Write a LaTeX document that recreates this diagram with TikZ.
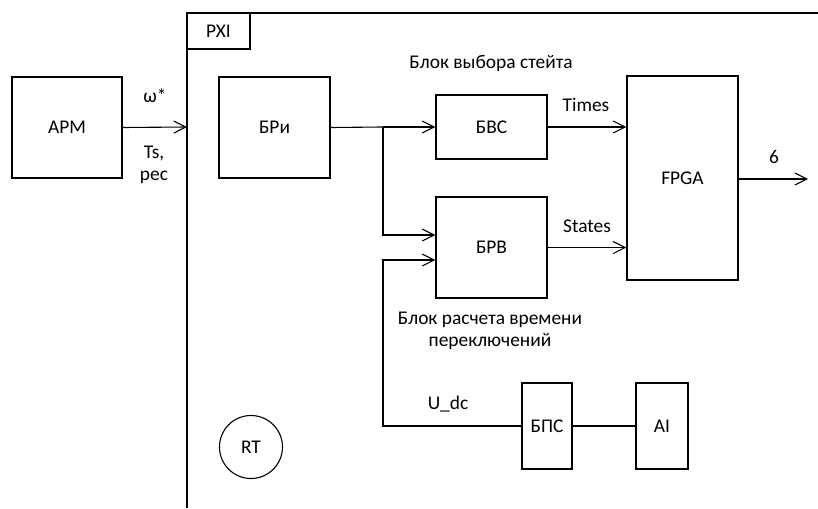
\documentclass[tikz,border=0pt]{standalone}
\usepackage{fontspec}
\setmainfont{Carlito}
\usetikzlibrary{arrows.meta,calc}
\begin{document}
\begin{tikzpicture}[x=1pt,y=-1pt,
  every node/.style={font=\fontsize{19.4}{22}\selectfont, inner sep=0pt},
  arr/.style={-{Straight Barb[length=12pt,width=12pt,line width=1.1pt]}},
  ln/.style={line width=1.1pt},
  lbl/.style={align=center}]
\useasboundingbox (0,0) rectangle (818,508);
\fill[white] (0,0) rectangle (818,508);
% PXI frame
\draw[ln] (818,13) -- (187,13) -- (187,508);
\node[draw, line width=1.1pt, minimum width=63pt, minimum height=36pt] (pxi) at (218.5,31) {PXI};
% blocks
\node[draw, line width=1.1pt, minimum width=110pt, minimum height=101pt] (apm) at (67,127.5) {АРМ};
\node[draw, line width=1.1pt, minimum width=111pt, minimum height=101pt] (bri) at (274.5,127.5) {БРи};
\node[draw, line width=1.1pt, minimum width=111pt, minimum height=64pt] (bvs) at (491.5,127) {БВС};
\node[draw, line width=1.1pt, minimum width=111pt, minimum height=101pt] (brv) at (491.5,247.5) {БРВ};
\node[draw, line width=1.1pt, minimum width=111pt, minimum height=204pt] (fpga) at (682.5,178) {FPGA};
\node[draw, line width=1.1pt, minimum width=50pt, minimum height=86pt] (bps) at (547,426) {БПС};
\node[draw, line width=1.1pt, minimum width=52pt, minimum height=86pt] (ai) at (662,426) {AI};
\node[draw, line width=1.1pt, circle, minimum size=63pt] (rt) at (251,447) {RT};
% coordinates
\coordinate (pxiin) at (187,127);
\coordinate (br) at (383,127);
\coordinate (br2) at (383,235);
\coordinate (in2) at (383,260);
\coordinate (out) at (808,179);
% connectors
\draw[ln,arr] (apm.east) -- (pxiin);
\draw[ln] (bri.east) -- (br);
\draw[ln,arr] (br) -- (bvs.west);
\draw[ln,arr] (br) -- (br2) -- (brv.west |- br2);
\draw[ln,arr] (bps.west) -- (bps.west -| in2) -- (in2) -- (brv.west |- in2);
\draw[ln,arr] (bvs.east) -- (fpga.west |- bvs.east);
\draw[ln,arr] (brv.east) -- (fpga.west |- brv.east);
\draw[ln,arr] (fpga.east |- out) -- (out);
\draw[ln] (bps.east) -- (ai.west);
% labels
\node (lw) at (155,96) {ω*};
\node[lbl] (lts) at (154,165) {Ts,\\рес};
\node (lbvs) at (491,63) {Блок выбора стейта};
\node (ltimes) at (586,105) {Times};
\node (lstates) at (587,226) {States};
\node (l6) at (774,157) {6};
\node[lbl] (lbrv) at (490,331) {Блок расчета времени\\переключений};
\node (ludc) at (448,404) {U\_dc};
\end{tikzpicture}
\end{document}
